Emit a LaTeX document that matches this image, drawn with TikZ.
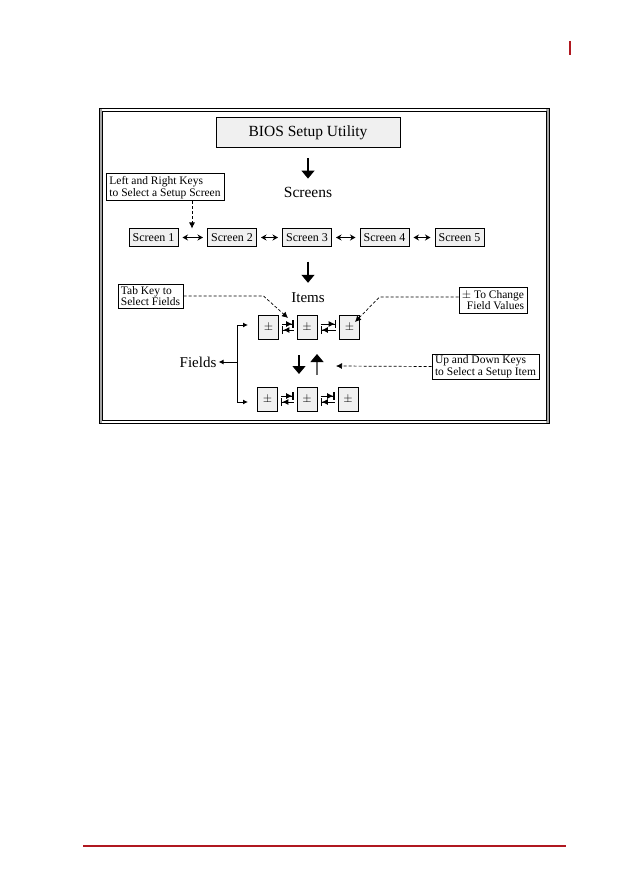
\documentclass[tikz,border=0pt]{standalone}
\usepackage{fontspec}
\setmainfont{Liberation Serif}
\usetikzlibrary{arrows.meta}
\definecolor{brandred}{RGB}{176,24,32}
\definecolor{boxgray}{RGB}{240,240,240}
\tikzset{
  titlebox/.style={draw, fill=boxgray, line width=1pt, minimum width=184pt, minimum height=30pt, inner sep=0pt, font=\fontsize{15.5}{17}\selectfont},
  scrbox/.style={draw, fill=boxgray, line width=1pt, minimum width=49pt, minimum height=17pt, inner sep=0pt, font=\fontsize{12}{13}\selectfont},
  fldbox/.style={draw, fill=boxgray, line width=1pt, minimum width=20pt, minimum height=24pt, inner sep=0pt, font=\fontsize{12}{13}\selectfont},
  callout/.style={draw, fill=white, line width=1pt, inner sep=1.5pt, font=\fontsize{11.5}{11.5}\selectfont},
  bigtext/.style={inner sep=0pt, font=\fontsize{15.5}{17}\selectfont},
  midtext/.style={inner sep=0pt, font=\fontsize{15}{16}\selectfont},
  bigarrow/.style={line width=1.1pt, -{Triangle[width=13pt,length=8pt]}},
  dblarrow/.style={line width=1pt, {Stealth[width=6pt,length=5.5pt]}-{Stealth[width=6pt,length=5.5pt]}, shorten <=4pt, shorten >=4pt},
  callline/.style={densely dashed, line width=0.7pt, -{Latex[width=6pt,length=6pt]}},
  barright/.style={line width=1pt, -{Latex[width=6pt,length=6pt]Bar[width=8pt,line width=1.3pt]}},
  barleft/.style={line width=1pt, {Bar[width=8pt,line width=1.3pt]Latex[width=6pt,length=6pt]}-},
  smallarrow/.style={line width=1pt, -{Latex[width=5pt,length=5pt]}},
}
\begin{document}
\begin{tikzpicture}[x=1pt,y=-1pt]
\useasboundingbox (0,0) rectangle (630,893);
% page decorations
\draw[brandred, line width=2.5pt] (570,41) -- (570,55);
\draw[brandred, line width=2pt] (83,845.5) -- (566,845.5);
% frame
\fill[gray!70] (99,108) rectangle (102,423);
\fill[gray!70] (546,108) rectangle (549,423);
\draw[line width=0.9pt] (99,108) rectangle (549,423);
\draw[line width=0.9pt] (102,111) rectangle (546,420);
% title and screens
\node[titlebox] (bios) at (308,133) {BIOS Setup Utility};
\node[bigtext] (screens) at (308,192) {Screens};
\draw[bigarrow, shorten <=10pt, shorten >=8pt] (bios.south) -- (screens.north);
\node[callout, align=left, minimum width=118pt, minimum height=27pt] (lrk) at (165,187.5) {Left and Right Keys\\to Select a Setup Screen};
\node[scrbox] (s1) at (153.5,237.5) {Screen 1};
\node[scrbox] (s2) at (232,237.5) {Screen 2};
\node[scrbox] (s3) at (307,237.5) {Screen 3};
\node[scrbox] (s4) at (384.5,237.5) {Screen 4};
\node[scrbox] (s5) at (459.5,237.5) {Screen 5};
\draw[dblarrow] (s1) -- (s2);
\draw[dblarrow] (s2) -- (s3);
\draw[dblarrow] (s3) -- (s4);
\draw[dblarrow] (s4) -- (s5);
\coordinate (lrkend) at (192,228.5);
\draw[callline] (lrk.south -| lrkend) -- (lrkend);
% items
\node[midtext] (items) at (308,298) {Items};
\draw[bigarrow, shorten <=15pt, shorten >=10pt] (s3.south -| items) -- (items.north);
\node[fldbox] (f1) at (268.5,327.5) {$\pm$};
\node[fldbox] (f2) at (307,327.5) {$\pm$};
\node[fldbox] (f3) at (349.5,327.5) {$\pm$};
\node[fldbox] (g1) at (267.5,399.5) {$\pm$};
\node[fldbox] (g2) at (307,399.5) {$\pm$};
\node[fldbox] (g3) at (348,399.5) {$\pm$};
\foreach \a/\b in {f1/f2,f2/f3,g1/g2,g2/g3}{
  \draw[barright, shorten <=3pt, shorten >=3pt] ([yshift=3.5pt]\a.east) -- ([yshift=3.5pt]\b.west);
  \draw[barleft, shorten <=3pt, shorten >=3pt] ([yshift=-2.5pt]\a.east) -- ([yshift=-2.5pt]\b.west);
}
% tab key callout
\node[callout, align=left, minimum width=65pt, minimum height=24pt] (tab) at (150.5,296) {Tab Key to\\Select Fields};
\coordinate (tabtip) at (288,318);
\draw[callline] (tab.east) -- ++(80,0) -- (tabtip);
% change callout
\node[callout, align=right, minimum width=68pt, minimum height=26pt] (chg) at (493,300) {$\pm$ To Change\\Field Values};
\coordinate (chgtip) at (355,322);
\draw[callline] ([yshift=3pt]chg.west) -- ++(-79,0) -- (chgtip);
% fields bracket
\node[midtext] (fields) at (198,362) {Fields};
\coordinate (bt) at (237,325);
\coordinate (bm) at (237,362);
\coordinate (bb) at (237,402);
\draw[line width=1pt] (bt) -- (bb);
\draw[smallarrow, shorten >=2pt] (bm) -- (fields.east);
\draw[smallarrow, shorten >=10pt] (bt) -- (f1.west |- bt);
\draw[smallarrow, shorten >=9pt] (bb) -- (g1.west |- bb);
% up / down
\coordinate (dnA) at (299,355);
\coordinate (dnB) at (299,374);
\coordinate (upA) at (317,375);
\coordinate (upB) at (317,354);
\draw[bigarrow] (dnA) -- (dnB);
\draw[line width=1.1pt, gray!80!black, -{Triangle[width=13pt,length=8pt,black]}] (upA) -- (upB);
\node[callout, align=left, minimum width=107pt, minimum height=25pt] (udk) at (485.5,366.5) {Up and Down Keys\\to Select a Setup Item};
\coordinate (udtip) at (336,366);
\draw[callline] (udk.west) -- (udtip);
\end{tikzpicture}
\end{document}
